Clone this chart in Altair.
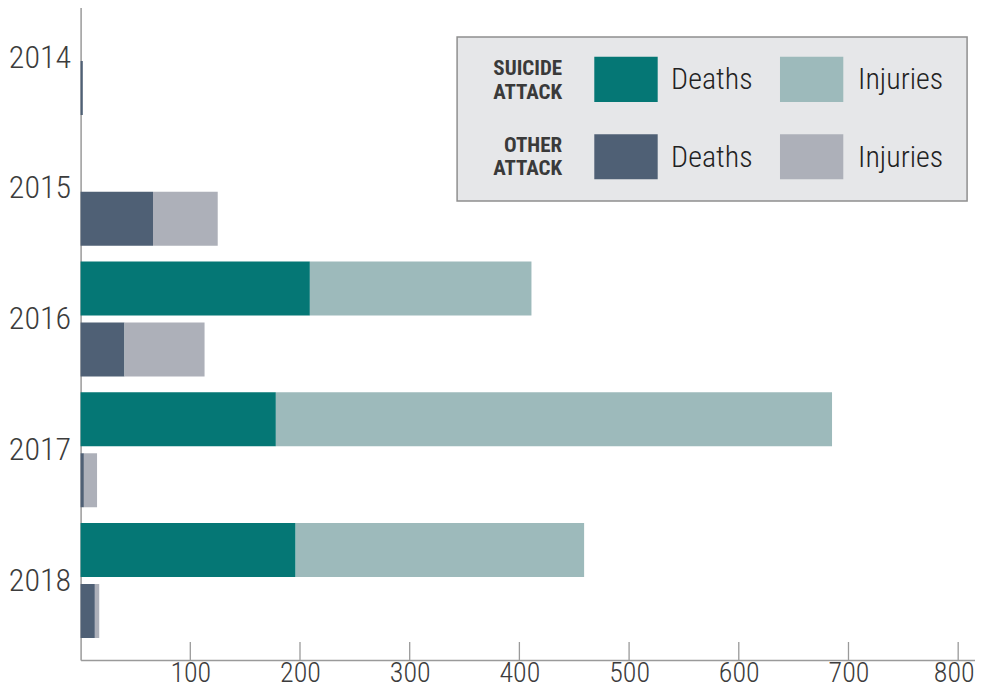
import altair as alt
import pandas as pd

# ---- data ----
years = ["2014", "2015", "2016", "2017", "2018"]
suicide_deaths = [0, 0, 209, 178, 196]
suicide_injuries = [0, 0, 202, 507, 263]
other_deaths = [2, 66, 40, 3, 13]
other_injuries = [0, 59, 73, 12, 4]
attack_types = ["SUICIDE ATTACK", "OTHER ATTACK"]
measures = ["Deaths", "Injuries"]
x_ticks = [100, 200, 300, 400, 500, 600, 700, 800]

# ---- styles ----
FONT = "Roboto Condensed, DejaVu Sans Condensed, Roboto, sans-serif"
color_map = {
    "SUICIDE ATTACK|Deaths": "#057775",
    "SUICIDE ATTACK|Injuries": "#9dbabb",
    "OTHER ATTACK|Deaths": "#4f6075",
    "OTHER ATTACK|Injuries": "#adb0b9",
}
keys = list(color_map.keys())
cols = list(color_map.values())
AXIS_GREY = "#9a9a9a"
TEXT = "#3c3c3c"

rows = []
for i, yr in enumerate(years):
    for attack, d, inj in [
        ("SUICIDE ATTACK", suicide_deaths[i], suicide_injuries[i]),
        ("OTHER ATTACK", other_deaths[i], other_injuries[i]),
    ]:
        for k, (m, v) in enumerate(zip(measures, [d, inj])):
            rows.append(dict(year=yr, attack=attack, measure=m, value=v,
                             key=f"{attack}|{m}", morder=k))
df = pd.DataFrame(rows)

XMAX = 815.5
W, H = 894.6, 652

x_scale = alt.Scale(domain=[0, XMAX], nice=False, zero=True)
x_axis = alt.Axis(values=x_ticks, ticks=False, grid=False,
                  domainColor=AXIS_GREY, domainWidth=1.5,
                  labelFont=FONT, labelFontSize=28, labelFontWeight=300,
                  labelColor=TEXT, labelBaseline="alphabetic",
                  labelPadding=22, labelFlush=20, labelFlushOffset=16)

bars = (
    alt.Chart(df)
    .transform_stack(stack="value", groupby=["year", "attack"],
                     sort=[alt.SortField("morder", order="ascending")],
                     as_=["x0", "x1"])
    .transform_filter("datum.value > 0")
    .mark_bar()
    .encode(
        x=alt.X("x0:Q", title=None, scale=x_scale, axis=x_axis),
        x2="x1:Q",
        y=alt.Y("year:N", title=None, sort=years,
                scale=alt.Scale(domain=years, range=[-8, H],
                                paddingInner=0.1205, paddingOuter=0.0841,
                                align=0),
                axis=alt.Axis(ticks=False, grid=False, domainColor=AXIS_GREY,
                              domainWidth=1.5, labelFont=FONT,
                              labelFontSize=32, labelFontWeight=300,
                              labelColor=TEXT, labelPadding=10)),
        yOffset=alt.YOffset("attack:N", sort=attack_types,
                            scale=alt.Scale(domain=attack_types,
                                            paddingInner=0.115,
                                            paddingOuter=0)),
        color=alt.Color("key:N", scale=alt.Scale(domain=keys, range=cols),
                        legend=None),
    )
)

ticks = (
    alt.Chart(pd.DataFrame({"x0": x_ticks}))
    .mark_rule(color=AXIS_GREY, strokeWidth=1.3)
    .encode(x=alt.X("x0:Q", title=None, scale=x_scale, axis=x_axis),
            y=alt.value(H - 18), y2=alt.value(H))
)

# ---- custom legend ----
dummy = pd.DataFrame({"a": [0]})
legend_layers = []
legend_layers.append(
    alt.Chart(dummy).mark_rect(fill="#e6e7e9", stroke="#8f8f8f", strokeWidth=1.5)
    .encode(x=alt.value(376.5), x2=alt.value(886.5), y=alt.value(29), y2=alt.value(193))
)
sw_x = [(513.7, 577.1), (699.4, 762.7)]
sw_y = [(48.7, 94.0), (126.3, 171.3)]
txt_x = [590.5, 777.5]
txt_base = [81.3, 158.7]
grp_base = [67.0, 143.5]
for r, attack in enumerate(attack_types):
    for c, m in enumerate(measures):
        legend_layers.append(
            alt.Chart(dummy).mark_rect(color=color_map[f"{attack}|{m}"])
            .encode(x=alt.value(sw_x[c][0]), x2=alt.value(sw_x[c][1]),
                    y=alt.value(sw_y[r][0]), y2=alt.value(sw_y[r][1]))
        )
        legend_layers.append(
            alt.Chart(dummy).mark_text(text=m, align="left", baseline="alphabetic",
                                       font=FONT, fontSize=30, fontWeight=300,
                                       color="#222222")
            .encode(x=alt.value(txt_x[c]), y=alt.value(txt_base[r]))
        )
    legend_layers.append(
        alt.Chart(dummy).mark_text(text=attack.split(" "), align="right",
                                   baseline="alphabetic", font=FONT,
                                   fontSize=21, fontWeight="bold",
                                   lineHeight=24, color="#3a3a3a")
        .encode(x=alt.value(481.5), y=alt.value(grp_base[r]))
    )

chart = (
    alt.layer(bars, ticks, *legend_layers)
    .properties(width=W, height=H,
                autosize=alt.AutoSizeParams(type="none"),
                padding={"left": 72.6, "top": 0, "right": 0, "bottom": 30})
    .configure(font=FONT)
    .configure_view(stroke=None)
)

chart.save("out.html", embed_options={"renderer": "svg", "actions": False})
